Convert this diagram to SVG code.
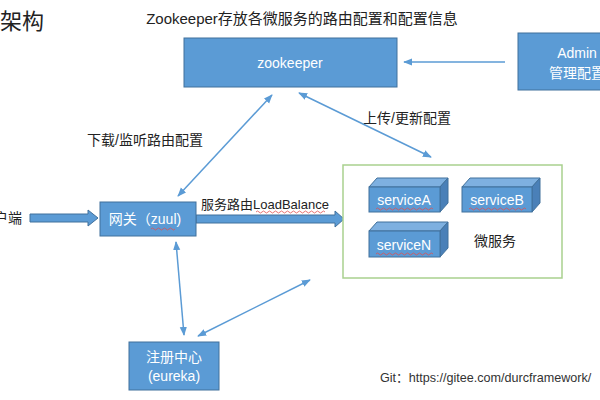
<svg xmlns="http://www.w3.org/2000/svg" width="600" height="400" viewBox="0 0 600 400">
<style>
text{font-family:"Liberation Sans","Noto Sans CJK SC",sans-serif}
.t{fill:#222;font-size:14px}
.w{fill:#fff;font-size:14px;text-anchor:middle}
.box{fill:#5b9bd5;stroke:#41719c;stroke-width:1}
.ln{stroke:#5b9bd5;stroke-width:1.5;fill:none}
.sq{stroke:#e05050;stroke-width:0.8;fill:none}
.front{fill:#5b9bd5;stroke:#41719c;stroke-width:1}
.top{fill:#7eb0e0;stroke:#41719c;stroke-width:1}
.side{fill:#4a80b8;stroke:#41719c;stroke-width:1}
</style>
<defs>
<marker id="ah" viewBox="0 0 10 10" refX="9" refY="5" markerWidth="6" markerHeight="6" orient="auto-start-reverse">
<path d="M0,1 L10,5 L0,9 z" fill="#5b9bd5"/>
</marker>
</defs>
<rect width="600" height="400" fill="#fff"/>
<text x="44" y="29" style="font-size:22px;fill:#222" text-anchor="end">架构</text>
<text x="302" y="24" style="font-size:15px;fill:#222" text-anchor="middle">Zookeeper存放各微服务的路由配置和配置信息</text>
<text class="t" x="87" y="145">下载/监听路由配置</text>
<text class="t" x="363" y="123">上传/更新配置</text>
<text class="t" x="-6" y="223">户端</text>
<text x="201" y="209" style="font-size:13px;fill:#222">服务路由LoadBalance</text>
<path class="sq" d="M256,212 q1.5,-2 3,0 t3,0 t3,0 t3,0 t3,0 t3,0 t3,0 t3,0 t3,0 t3,0 t3,0 t3,0 t3,0 t3,0 t3,0 t3,0 t3,0 t3,0 t3,0 t3,0 t3,0 t3,0 t3,0"/>
<text x="380" y="382" style="font-size:12.6px;fill:#333">Git：https://gitee.com/durcframework/</text>

<g id="connectors">
<line class="ln" x1="505" y1="62" x2="404" y2="62" marker-end="url(#ah)"/>
<line class="ln" x1="178" y1="196" x2="272" y2="95" marker-start="url(#ah)" marker-end="url(#ah)"/>
<line class="ln" x1="299" y1="93" x2="431" y2="157" marker-start="url(#ah)" marker-end="url(#ah)"/>
<line class="ln" x1="176" y1="242" x2="184" y2="335" marker-start="url(#ah)" marker-end="url(#ah)"/>
<line class="ln" x1="198" y1="336" x2="310" y2="280" marker-start="url(#ah)" marker-end="url(#ah)"/>
<path class="box" d="M30,214 L88,214 L88,210 L98,218 L88,226 L88,222 L30,222 z"/>
<path class="box" d="M196,215 L335,215 L335,211 L344,219 L335,227 L335,223 L196,223 z"/>
</g>

<g id="zookeeper">
<rect class="box" x="184" y="38" width="213" height="49"/>
<text class="w" x="290" y="68">zookeeper</text>
</g>
<g id="admin">
<rect class="box" x="518" y="33" width="120" height="57"/>
<text class="w" x="577" y="58">Admin</text>
<text class="w" x="577" y="78">管理配置</text>
</g>
<g id="gateway">
<rect class="box" x="100" y="202" width="96" height="34"/>
<text class="w" x="145" y="224">网关（zuul)</text>
<path class="sq" d="M151,229 q1.5,-2 3,0 t3,0 t3,0 t3,0 t3,0 t3,0 t3,0 t3,0"/>
</g>
<g id="microservices">
<rect x="343" y="165" width="219" height="113" fill="#fff" stroke="#a9d18e" stroke-width="1.5"/>
<text class="t" x="474" y="246">微服务</text>
</g>
<g id="serviceA">
<path class="top" d="M369,187 L377,178 L448,178 L440,187 z"/>
<path class="side" d="M440,187 L448,178 L448,203 L440,212 z"/>
<rect class="front" x="369" y="187" width="71" height="25"/>
<text class="w" x="404" y="205">serviceA</text>
<path class="sq" d="M376,209 q1.5,-2 3,0 t3,0 t3,0 t3,0 t3,0 t3,0 t3,0 t3,0 t3,0 t3,0 t3,0 t3,0 t3,0 t3,0 t3,0 t3,0 t3,0 t3,0 t3,0"/>
</g>
<g id="serviceB">
<path class="top" d="M462,187 L470,178 L540,178 L532,187 z"/>
<path class="side" d="M532,187 L540,178 L540,203 L532,212 z"/>
<rect class="front" x="462" y="187" width="70" height="25"/>
<text class="w" x="497" y="205">serviceB</text>
<path class="sq" d="M469,209 q1.5,-2 3,0 t3,0 t3,0 t3,0 t3,0 t3,0 t3,0 t3,0 t3,0 t3,0 t3,0 t3,0 t3,0 t3,0 t3,0 t3,0 t3,0 t3,0 t3,0"/>
</g>
<g id="serviceN">
<path class="top" d="M369,231 L377,222 L448,222 L440,231 z"/>
<path class="side" d="M440,231 L448,222 L448,248 L440,257 z"/>
<rect class="front" x="369" y="231" width="71" height="26"/>
<text class="w" x="404" y="250">serviceN</text>
<path class="sq" d="M376,254 q1.5,-2 3,0 t3,0 t3,0 t3,0 t3,0 t3,0 t3,0 t3,0 t3,0 t3,0 t3,0 t3,0 t3,0 t3,0 t3,0 t3,0 t3,0 t3,0 t3,0"/>
</g>
<g id="eureka">
<rect class="box" x="129" y="342" width="90" height="48"/>
<text class="w" x="174" y="362">注册中心</text>
<text class="w" x="174" y="381">(eureka)</text>
</g>
</svg>
